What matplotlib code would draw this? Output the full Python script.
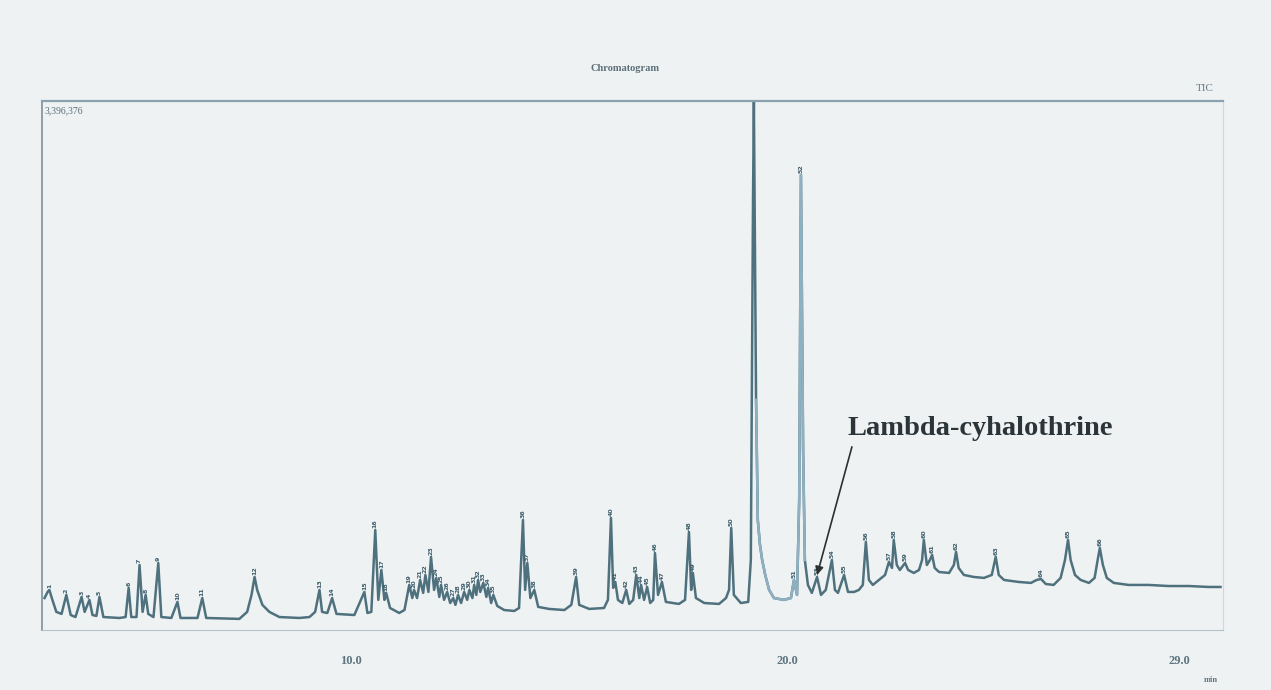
import numpy as np
import matplotlib
matplotlib.use("Agg")
import matplotlib.pyplot as plt

# retention time (min) and TIC intensity (x1000 counts)
rt_min = [2.96, 3.03, 3.07, 3.14, 3.23, 3.35, 3.46, 3.56, 3.67, 3.81, 3.88, 3.99, 4.06, 4.15, 4.22, 4.31,
          4.68, 4.82, 4.89, 4.95, 5.07, 5.14, 5.21, 5.28, 5.34, 5.46, 5.57, 5.64, 5.87, 6.01, 6.08, 6.47,
          6.58, 6.67, 7.43, 7.61, 7.71, 7.78, 7.84, 7.96, 8.12, 8.35, 8.81, 9.04, 9.17, 9.27, 9.33, 9.45,
          9.56, 9.66, 10.07, 10.30, 10.37, 10.46, 10.55, 10.62, 10.69, 10.76, 10.80, 10.89, 11.10, 11.22,
          11.33, 11.40, 11.44, 11.51, 11.58, 11.65, 11.70, 11.77, 11.83, 11.90, 11.95, 12.02, 12.06, 12.13,
          12.20, 12.27, 12.34, 12.39, 12.45, 12.52, 12.59, 12.66, 12.71, 12.78, 12.82, 12.87, 12.91, 12.96,
          13.03, 13.10, 13.14, 13.21, 13.26, 13.35, 13.51, 13.74, 13.85, 13.94, 13.99, 14.04, 14.11, 14.20,
          14.29, 14.54, 14.89, 15.05, 15.16, 15.23, 15.46, 15.80, 15.89, 15.96, 16.01, 16.06, 16.12, 16.22,
          16.31, 16.38, 16.47, 16.54, 16.61, 16.65, 16.72, 16.79, 16.86, 16.93, 16.97, 17.04, 17.13, 17.22,
          17.52, 17.66, 17.75, 17.80, 17.84, 17.91, 18.10, 18.44, 18.60, 18.67, 18.72, 18.78, 18.94, 19.11,
          19.17, 19.22, 19.24, 19.29, 19.33, 19.38, 19.43, 19.50, 19.59, 19.70, 19.93, 20.09, 20.16, 20.23,
          20.28, 20.32, 20.37, 20.41, 20.48, 20.57, 20.69, 20.78, 20.89, 20.96, 21.03, 21.10, 21.17, 21.31,
          21.40, 21.54, 21.65, 21.74, 21.81, 21.88, 21.97, 22.11, 22.25, 22.34, 22.41, 22.45, 22.52, 22.59,
          22.66, 22.71, 22.78, 22.91, 23.03, 23.10, 23.14, 23.21, 23.28, 23.33, 23.39, 23.49, 23.72, 23.83,
          23.88, 23.94, 24.06, 24.29, 24.52, 24.70, 24.79, 24.86, 24.98, 25.32, 25.60, 25.73, 25.83, 25.94,
          26.12, 26.28, 26.38, 26.45, 26.51, 26.61, 26.74, 26.93, 27.06, 27.13, 27.18, 27.25, 27.34, 27.50,
          27.84, 28.30, 28.76, 29.22, 29.68, 29.95]
tic_k = [205, 244, 257, 193, 116, 103, 225, 96, 83, 212, 116, 193, 96, 90, 212, 83,
         77, 83, 270, 83, 83, 417, 116, 225, 103, 83, 430, 83, 77, 180, 77, 77,
         205, 77, 71, 116, 225, 340, 257, 161, 116, 83, 77, 83, 116, 257, 116, 109,
         205, 103, 96, 244, 109, 116, 642, 193, 385, 193, 238, 141, 109, 128,
         289, 205, 257, 205, 321, 238, 353, 244, 469, 257, 334, 212, 289, 193,
         244, 173, 205, 161, 225, 173, 244, 193, 257, 205, 289, 225, 321, 244,
         302, 212, 270, 173, 225, 154, 128, 122, 141, 706, 257, 430, 205, 257,
         148, 135, 128, 161, 340, 161, 135, 141, 193, 719, 270, 308, 193, 173,
         257, 167, 193, 353, 205, 289, 193, 276, 173, 193, 494, 225, 308, 180,
         167, 193, 629, 257, 366, 205, 173, 167, 205, 257, 655, 225, 173, 180,
         449, 2761, 3396, 1477, 706, 546, 449, 353, 257, 205, 193, 205, 321, 225,
         835, 2921, 1156, 449, 289, 238, 340, 225, 257, 353, 449, 257, 238, 353,
         244, 244, 257, 289, 565, 321, 289, 321, 353, 437, 398, 578, 417, 385,
         411, 430, 385, 366, 385, 449, 578, 417, 449, 482, 398, 372, 366, 417,
         501, 398, 353, 340, 334, 353, 469, 353, 321, 308, 302, 321, 327, 295,
         289, 334, 449, 578, 449, 353, 321, 302, 334, 449, 526, 417, 334, 302,
         289, 289, 282, 282, 276, 276]

full_scale = 3396376
tick_pos = [10.0, 20.0, 29.0]
tick_text = ["10.0", "20.0", "29.0"]
compound = "Lambda-cyhalothrine"
compound_rt = 20.69  # small peak pointed at by the arrow

bg = "#eef2f3"
trace = "#4f717e"

t = np.array(rt_min)
y = np.array(tic_k) * 1000.0

fig = plt.figure(figsize=(12.71, 6.90), dpi=100, facecolor=bg)
ax = fig.add_axes([0.033, 0.087, 0.929, 0.767], facecolor=bg)

ax.plot(t, y, color=trace, lw=1.8, solid_joinstyle="round")
# the part around the two big peaks prints lighter in the scan
m = (t >= 19.27) & (t <= 20.45)
ax.plot(t[m], y[m], color="#8fb0c0", lw=1.8)

# little peak number tags above each local maximum
n = 1
for i in range(1, len(y) - 1):
    if y[i] > y[i - 1] and y[i] > y[i + 1] and y[i] < full_scale * 0.95:
        ax.text(t[i], y[i] + 12000, str(n), fontsize=4.5, rotation=90, color="#3f5f6c",
                ha="center", va="bottom", fontweight="bold")
        n += 1

ax.set_xlim(2.9, 30.0)
ax.set_ylim(0, full_scale)
ax.set_xticks(tick_pos)
ax.set_xticklabels(tick_text, family="Liberation Serif", fontweight="bold", fontsize=9, color="#5d7580")
ax.set_yticks([])
ax.tick_params(axis="x", length=0, pad=18)

ax.spines["top"].set_color("#8aa2b0")
ax.spines["top"].set_linewidth(1.6)
ax.spines["left"].set_color("#8d9ea8")
ax.spines["left"].set_linewidth(1.4)
ax.spines["right"].set_color("#cfd8dd")
ax.spines["bottom"].set_color("#b3c2ca")
ax.spines["bottom"].set_linestyle((0, (2, 1)))

# header texts of the instrument printout
fig.text(0.492, 0.901, "Chromatogram", family="Liberation Serif", fontsize=7.5, fontweight="bold",
         color="#5c6f7a", ha="center", va="center")
fig.text(0.948, 0.872, "TIC", family="Liberation Serif", fontsize=8, color="#6a7c86",
         ha="center", va="center")
ax.text(0.002, 0.99, "3,396,376", transform=ax.transAxes, family="Liberation Serif",
        fontsize=7, color="#5c6f7a", ha="left", va="top")
fig.text(0.953, 0.015, "min", family="Liberation Serif", fontsize=6, fontweight="bold",
         color="#607782", ha="center", va="center")

ax.text(21.38, 1212000, compound, family="Liberation Serif", fontsize=20.5, fontweight="bold",
        color="#2b3438", ha="left", va="bottom")
ax.annotate("", xy=(compound_rt, 353000), xytext=(21.49, 1175000),
            arrowprops=dict(arrowstyle="-|>", color="#2b3030", lw=1.2, mutation_scale=12,
                            shrinkA=0, shrinkB=0))

fig.savefig("out.png", dpi=100, facecolor=bg)
